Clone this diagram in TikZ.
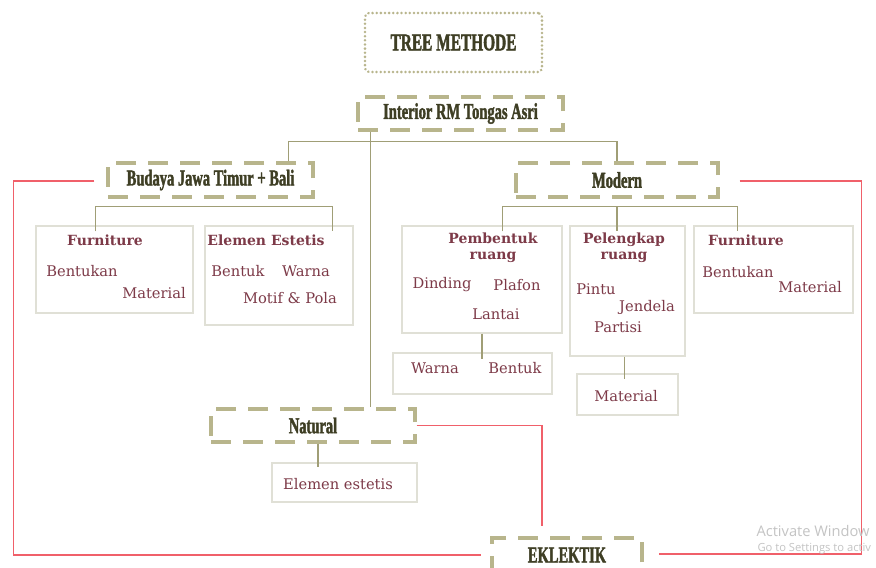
\documentclass[tikz,border=0pt]{standalone}
\usepackage{fontspec}
\setmainfont{DejaVu Serif}
\newfontfamily\headfont[FakeStretch=0.64, BoldFeatures={FakeBold=1.6}]{Liberation Serif}
\newfontfamily\winfont{Open Sans}
\usetikzlibrary{calc}

\definecolor{khaki}{RGB}{184,181,140}
\definecolor{twig}{RGB}{160,158,118}
\definecolor{headtxt}{RGB}{62,62,36}
\definecolor{leaftxt}{RGB}{125,58,72}
\definecolor{boxgray}{RGB}{224,224,214}
\definecolor{redline}{RGB}{240,96,106}
\definecolor{wintxt}{RGB}{196,196,196}

\tikzset{every picture/.style={line width=0.75pt}}
\tikzset{
  headbox/.style={draw=khaki, line width=2.3pt, dash pattern=on 15pt off 9pt,
    inner sep=0pt, font=\headfont\bfseries\fontsize{17}{19}\selectfont, text=headtxt},
  leafbox/.style={draw=boxgray, line width=1pt, inner sep=0pt},
  leafhead/.style={inner sep=0.75pt, font=\bfseries\fontsize{10.5}{12}\selectfont, text=leaftxt, align=center},
  leaftext/.style={inner sep=0.75pt, font=\fontsize{11}{13}\selectfont, text=leaftxt},
  twigline/.style={draw=twig, line width=1pt},
  linkline/.style={draw=redline, line width=1pt},
}

\begin{document}
\begin{tikzpicture}[x=0.75pt,y=0.75pt,yscale=-1,xscale=1]
	\clip (0,0) rectangle (876,568);
	\fill[white] (0,0) rectangle (876,568);

	% Title
	\node[draw=khaki, line width=2pt, dash pattern=on 0.1pt off 3pt, line cap=round, rounded corners=3pt,
	  minimum width=132.75pt, minimum height=44.25pt, font=\headfont\bfseries\fontsize{18}{20}\selectfont, text=headtxt]
	  (tree) at (453.5,42.5) {TREE METHODE};

	% Main boxes
	\node[headbox, minimum width=153.75pt, minimum height=24.75pt] (interior) at (460.5,113.5) {Interior RM Tongas Asri};
	\node[headbox, minimum width=153.75pt, minimum height=25.5pt] (budaya) at (210.5,180) {Budaya Jawa Timur + Bali};
	\node[headbox, minimum width=151.5pt, minimum height=25.5pt] (modern) at (617,180) {Modern};
	\node[headbox, minimum width=153pt, minimum height=24.75pt] (natural) at (313,425.5) {Natural};
	\node[headbox, minimum width=112.5pt, minimum height=25.5pt] (eklektik) at (567,555) {EKLEKTIK};

	% Leaf boxes
	\node[leafbox, minimum width=117.75pt, minimum height=65.25pt] (furnL) at (114.5,269.5) {};
	\node[leafbox, minimum width=111pt, minimum height=74.25pt] (elemen) at (279,275.5) {};
	\node[leafbox, minimum width=120pt, minimum height=80.25pt] (pemb) at (482,279.5) {};
	\node[leafbox, minimum width=119.25pt, minimum height=30.75pt] (wb) at (472.5,373.5) {};
	\node[leafbox, minimum width=86.25pt, minimum height=97.5pt] (peleng) at (627.5,291) {};
	\node[leafbox, minimum width=75.75pt, minimum height=30.75pt] (matM) at (627.5,394.5) {};
	\node[leafbox, minimum width=119.25pt, minimum height=65.25pt] (furnR) at (773.5,269.5) {};
	\node[leafbox, minimum width=108.75pt, minimum height=29.25pt] (estet) at (344.5,482.5) {};

	% Texts in leaf boxes
	\node[leafhead] (furnLh) at (105,240) {Furniture};
	\node[leaftext] (furnLa) at (82,271) {Bentukan};
	\node[leaftext] (furnLb) at (154,293) {Material};
	\node[leafhead] (elemenh) at (266,240) {Elemen Estetis};
	\node[leaftext] (elemena) at (238,271) {Bentuk};
	\node[leaftext] (elemenb) at (306,271) {Warna};
	\node[leaftext] (elemenc) at (290,298) {Motif \& Pola};
	\node[leafhead] (pembh) at (493,248) {Pembentuk\\ruang};
	\node[leaftext] (pemba) at (442,285) {Dinding};
	\node[leaftext] (pembb) at (517,285) {Plafon};
	\node[leaftext] (pembc) at (496,314) {Lantai};
	\node[leaftext] (wba) at (435,368) {Warna};
	\node[leaftext] (wbb) at (515,368) {Bentuk};
	\node[leafhead] (pelengh) at (624,248) {Pelengkap\\ruang};
	\node[leaftext] (pelenga) at (596,289) {Pintu};
	\node[leaftext] (pelengb) at (647,307) {Jendela};
	\node[leaftext] (pelengc) at (618,327) {Partisi};
	\node[leaftext] (matMa) at (626,396) {Material};
	\node[leafhead] (furnRh) at (746,240) {Furniture};
	\node[leaftext] (furnRa) at (738,272) {Bentukan};
	\node[leaftext] (furnRb) at (810,287) {Material};
	\node[leaftext] (estettxt) at (338,484) {Elemen estetis};

	% Tree connectors
	\draw[twigline] (interior.south west) ++(14,0) coordinate (trunk) -- (trunk |- natural.north);
	\draw[twigline] ($(budaya.north east)+(-26,0)$) |- ($(trunk)+(0,10)$) -| (modern.north);
	\draw[twigline] ($(furnL.north west)+(60,6)$) |- ($(budaya.south)+(0,8)$) -| ($(elemen.north east)+(-21,6)$);
	\draw[twigline] ($(pemb.north west)+(101,6)$) |- ($(modern.south)+(0,8)$) -| ($(furnR.north west)+(44,6)$);
	\draw[twigline] ($(modern.south)+(0,8)$) -- ($(modern.south |- peleng.north)+(0,6)$);
	\draw[twigline] (pemb.south) -- ($(pemb.south |- wb.north)+(0,7)$);
	\draw[twigline] ($(peleng.south)+(-3,0)$) -- ($(peleng.south |- matM.north)+(-3,6)$);
	\draw[twigline] ($(natural.south)+(5,0)$) -- ($(natural.south |- estet.north)+(5,5)$);

	% Links to EKLEKTIK
	\draw[linkline] ($(budaya.west)+(-12,1)$) -- ++(-81,0) |- ($(eklektik.west)+(-9,0)$);
	\draw[linkline] ($(modern.east)+(20,1)$) -- ++(122,0) |- ($(eklektik.east)+(15,-1)$);
	\draw[linkline] (natural.east) -| ($(eklektik.north)+(-25,-10)$);

	% Screen watermark, cut at the right edge as on screen
	\node[anchor=west, inner sep=0pt, text=wintxt, font=\winfont\fontsize{11}{13}\selectfont] (wina) at (756,531) {Activate Window};
	\node[anchor=west, inner sep=0pt, text=wintxt, font=\winfont\fontsize{8.4}{10}\selectfont] (winb) at (757,549) {Go to Settings to activ};
\end{tikzpicture}
\end{document}
